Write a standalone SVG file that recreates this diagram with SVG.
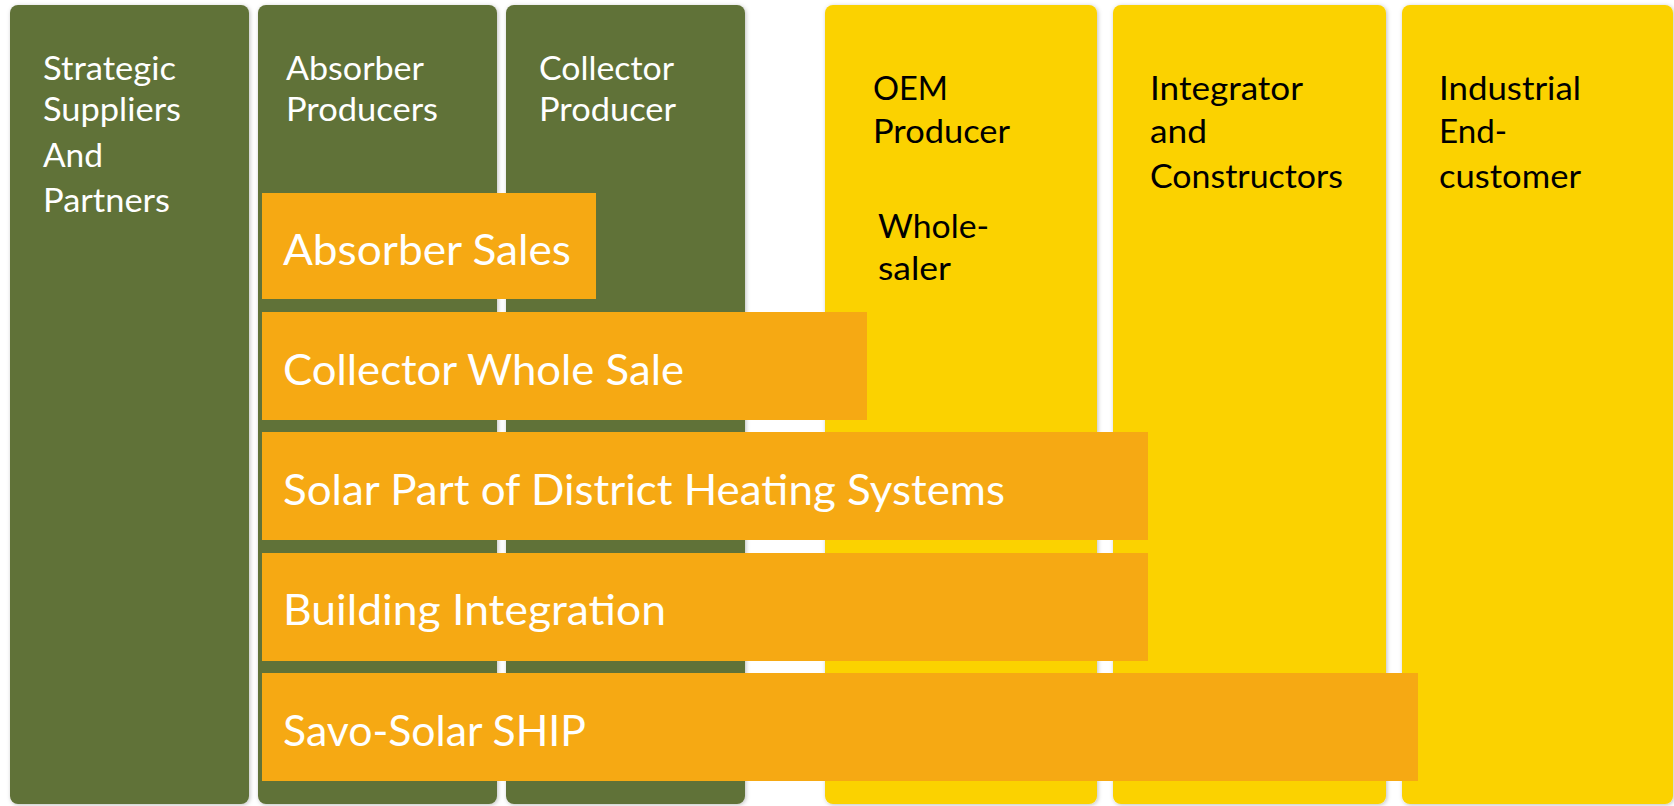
<svg xmlns="http://www.w3.org/2000/svg" width="1674" height="806" viewBox="0 0 1674 806">
  <style>
    .col-green { fill: #617238; }
    .col-yellow { fill: #FBD200; }
    .bar { fill: #F6A913; }
    .hdr-w { font-family: Lato, "Open Sans", "Liberation Sans", sans-serif; font-size: 33px; fill: #FFFFFF; }
    .hdr-b { font-family: Lato, "Open Sans", "Liberation Sans", sans-serif; font-size: 33px; fill: #000000; }
    .bar-t { font-family: Lato, "Open Sans", "Liberation Sans", sans-serif; font-size: 43px; fill: #FFFFFF; }
  </style>
  <defs>
    <filter id="sh" x="-5%" y="-2%" width="110%" height="104%">
      <feDropShadow dx="1" dy="1" stdDeviation="2" flood-color="#000000" flood-opacity="0.25"/>
    </filter>
  </defs>
  <rect x="0" y="0" width="1674" height="806" fill="#FFFFFF"/>

  <g id="col-strategic">
    <rect class="col-green" x="10" y="5" width="239" height="799" rx="8" filter="url(#sh)"/>
    <text class="hdr-w" x="43" y="80" textLength="133" lengthAdjust="spacingAndGlyphs">Strategic</text>
    <text class="hdr-w" x="43" y="121" textLength="138" lengthAdjust="spacingAndGlyphs">Suppliers</text>
    <text class="hdr-w" x="43" y="167" textLength="60" lengthAdjust="spacingAndGlyphs">And</text>
    <text class="hdr-w" x="43" y="212" textLength="127" lengthAdjust="spacingAndGlyphs">Partners</text>
  </g>
  <g id="col-absorber">
    <rect class="col-green" x="258" y="5" width="239" height="799" rx="8" filter="url(#sh)"/>
    <text class="hdr-w" x="286" y="80" textLength="138" lengthAdjust="spacingAndGlyphs">Absorber</text>
    <text class="hdr-w" x="286" y="121" textLength="152" lengthAdjust="spacingAndGlyphs">Producers</text>
  </g>
  <g id="col-collector">
    <rect class="col-green" x="506" y="5" width="239" height="799" rx="8" filter="url(#sh)"/>
    <text class="hdr-w" x="539" y="80" textLength="135" lengthAdjust="spacingAndGlyphs">Collector</text>
    <text class="hdr-w" x="539" y="121" textLength="137" lengthAdjust="spacingAndGlyphs">Producer</text>
  </g>
  <g id="col-oem">
    <rect class="col-yellow" x="825" y="5" width="272" height="799" rx="8" filter="url(#sh)"/>
    <text class="hdr-b" x="873" y="100" textLength="75" lengthAdjust="spacingAndGlyphs">OEM</text>
    <text class="hdr-b" x="873" y="143" textLength="137" lengthAdjust="spacingAndGlyphs">Producer</text>
    <text class="hdr-b" x="878" y="238" textLength="111" lengthAdjust="spacingAndGlyphs">Whole-</text>
    <text class="hdr-b" x="878" y="280" textLength="73" lengthAdjust="spacingAndGlyphs">saler</text>
  </g>
  <g id="col-integrator">
    <rect class="col-yellow" x="1113" y="5" width="273" height="799" rx="8" filter="url(#sh)"/>
    <text class="hdr-b" x="1150" y="100" textLength="153" lengthAdjust="spacingAndGlyphs">Integrator</text>
    <text class="hdr-b" x="1150" y="143" textLength="57" lengthAdjust="spacingAndGlyphs">and</text>
    <text class="hdr-b" x="1150" y="188" textLength="193" lengthAdjust="spacingAndGlyphs">Constructors</text>
  </g>
  <g id="col-industrial">
    <rect class="col-yellow" x="1402" y="5" width="271" height="799" rx="8" filter="url(#sh)"/>
    <text class="hdr-b" x="1439" y="100" textLength="142" lengthAdjust="spacingAndGlyphs">Industrial</text>
    <text class="hdr-b" x="1439" y="143" textLength="68" lengthAdjust="spacingAndGlyphs">End-</text>
    <text class="hdr-b" x="1439" y="188" textLength="142" lengthAdjust="spacingAndGlyphs">customer</text>
  </g>

  <g id="bar-absorber-sales">
    <rect class="bar" x="262" y="193" width="334" height="106"/>
    <text class="bar-t" x="283" y="265" textLength="288" lengthAdjust="spacingAndGlyphs">Absorber Sales</text>
  </g>
  <g id="bar-collector-whole-sale">
    <rect class="bar" x="262" y="312" width="605" height="108"/>
    <text class="bar-t" x="283" y="385" textLength="401" lengthAdjust="spacingAndGlyphs">Collector Whole Sale</text>
  </g>
  <g id="bar-district-heating">
    <rect class="bar" x="262" y="432" width="886" height="108"/>
    <text class="bar-t" x="283" y="505" textLength="722" lengthAdjust="spacingAndGlyphs">Solar Part of District Heating Systems</text>
  </g>
  <g id="bar-building-integration">
    <rect class="bar" x="262" y="553" width="886" height="108"/>
    <text class="bar-t" x="283" y="625" textLength="383" lengthAdjust="spacingAndGlyphs">Building Integration</text>
  </g>
  <g id="bar-savo-solar-ship">
    <rect class="bar" x="262" y="673" width="1156" height="108"/>
    <text class="bar-t" x="283" y="746" textLength="303" lengthAdjust="spacingAndGlyphs">Savo-Solar SHIP</text>
  </g>
</svg>
